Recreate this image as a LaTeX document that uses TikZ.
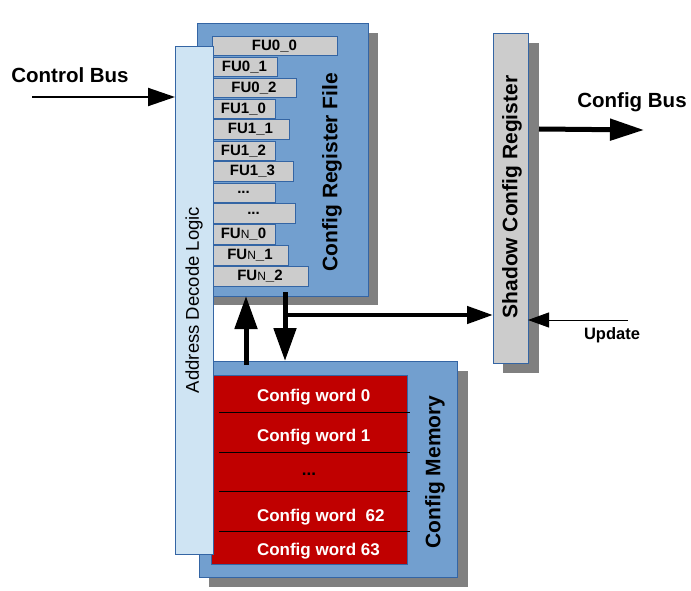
\documentclass[tikz,border=0pt]{standalone}
\usepackage{fontspec}
\setmainfont{Liberation Sans}
\usetikzlibrary{arrows.meta}
\definecolor{blfill}{RGB}{114,159,207}
\definecolor{blline}{RGB}{52,101,164}
\definecolor{lbfill}{RGB}{207,228,243}
\definecolor{shgray}{RGB}{128,128,128}
\definecolor{fugray}{RGB}{204,204,204}
\definecolor{cmred}{RGB}{192,0,0}
\tikzset{
  every node/.style={inner sep=0pt, outer sep=0pt},
  shadowbox/.style={fill=shgray, draw=none},
  bluebox/.style={fill=blfill, draw=blline, line width=0.8pt, anchor=north west},
  fubox/.style={fill=fugray, draw=blline, line width=0.7pt, anchor=north west, minimum height=19.5pt,
     font=\fontsize{15}{15}\selectfont\bfseries},
  biglabel/.style={font=\fontsize{21}{21}\selectfont\bfseries},
  wordlabel/.style={font=\fontsize{17}{17}\selectfont\bfseries, text=white, anchor=west},
  fatarrow/.style={line width=5pt, -{Triangle[length=33pt,width=22pt]}},
}
\newcommand{\smN}{{\fontsize{12}{12}\selectfont\mdseries N}}
\begin{document}
\begin{tikzpicture}[x=1pt,y=-1pt]
\useasboundingbox (0,0) rectangle (691,591);
% shadows
\fill[shgray] (207,33) rectangle (378,305);
\fill[shgray] (209,371) rectangle (468,587);
\fill[shgray] (503,43) rectangle (539,373);
% config register file
\node[bluebox, minimum width=171pt, minimum height=273pt] (crf) at (197,23) {};
\node[fubox, minimum width=125pt] (fu1) at (212,36) {FU0\_0};
\node[fubox, minimum width=65pt] (fu2) at (212,57) {FU0\_1};
\node[fubox, minimum width=84pt] (fu3) at (212,78) {FU0\_2};
\node[fubox, minimum width=63pt] (fu4) at (212,99) {FU1\_0};
\node[fubox, minimum width=77pt] (fu5) at (212,119.5) {FU1\_1};
\node[fubox, minimum width=63pt] (fu6) at (212,141) {FU1\_2};
\node[fubox, minimum width=81pt] (fu7) at (212,161.5) {FU1\_3};
\node[fubox, minimum width=63pt] (fu8) at (212,183) {...};
\node[fubox, minimum width=83pt] (fu9) at (212,203.5) {...};
\node[fubox, minimum width=63pt] (fu10) at (212,224.5) {FU\smN\_0};
\node[fubox, minimum width=76pt] (fu11) at (212,245.5) {FU\smN\_1};
\node[fubox, minimum width=96pt] (fu12) at (212,266.5) {FU\smN\_2};
\node[biglabel, rotate=90] (crflab) at (332,172) {Config Register File};
% config memory
\node[bluebox, minimum width=258pt, minimum height=216pt] (cm) at (199,361) {};
\node[fill=cmred, draw=blline, line width=0.8pt, anchor=north west, minimum width=196pt, minimum height=189pt] (red) at (211,375) {};
\draw[black, line width=0.8pt] (219,412) -- (410,412) (219,452) -- (410,452) (219,491) -- (410,491) (219,531) -- (410,531);
\node[wordlabel] (w0) at (257,397) {Config word 0};
\node[wordlabel] (w1) at (257,437) {Config word 1};
\node[font=\fontsize{17}{17}\selectfont\bfseries] (w2) at (309,474) {...};
\node[wordlabel] (w3) at (257,517) {Config word \ 62};
\node[wordlabel] (w4) at (257,551) {Config word 63};
\node[biglabel, rotate=90] (cmlab) at (435,472) {Config Memory};
% shadow config register
\node[fill=fugray, draw=blline, line width=0.8pt, anchor=north west, minimum width=35pt, minimum height=330pt] (scr) at (493,33) {};
\node[biglabel, rotate=90] (scrlab) at (512,197) {Shadow Config Register};
% address decode logic
\node[fill=lbfill, draw=blline, line width=0.8pt, anchor=north west, minimum width=38pt, minimum height=508pt] (adl) at (175,46) {};
\node[font=\fontsize{18.5}{18.5}\selectfont, rotate=90] (adllab) at (194,300) {Address Decode Logic};
% arrows
\coordinate (upx) at (246,0);
\coordinate (dnx) at (285,0);
\coordinate (dnstart) at (285,292);
\coordinate (branch) at (285,315);
\draw[fatarrow] (cm.north -| upx) ++(0,4) -- (crf.south -| upx);
\draw[fatarrow] (dnstart) -- (cm.north -| dnx);
\draw[line width=4.5pt, -{Triangle[length=26pt,width=17pt]}] (branch) -- (branch -| scr.west);
\coordinate (cbstart) at (32,97);
\draw[line width=2pt, -{Triangle[length=27pt,width=18pt]}] (cbstart) -- (cbstart -| adl.west);
\node[font=\fontsize{20.5}{20.5}\selectfont\bfseries] (cblab) at (70,75) {Control Bus};
\coordinate (cfgend) at (644,130);
\draw[line width=5pt, -{Triangle[length=34pt,width=21pt]}] (scr.east |- 0,129) ++(11,0) -- (cfgend);
\node[font=\fontsize{20.5}{20.5}\selectfont\bfseries] (cfglab) at (632,102) {Config Bus};
\coordinate (updstart) at (628,320);
\draw[line width=1pt, -{Triangle[length=21pt,width=15pt]}] (updstart) -- (updstart -| scr.east);
\node[font=\fontsize{16.5}{16.5}\selectfont\bfseries] (updlab) at (612,335) {Update};
\end{tikzpicture}
\end{document}
